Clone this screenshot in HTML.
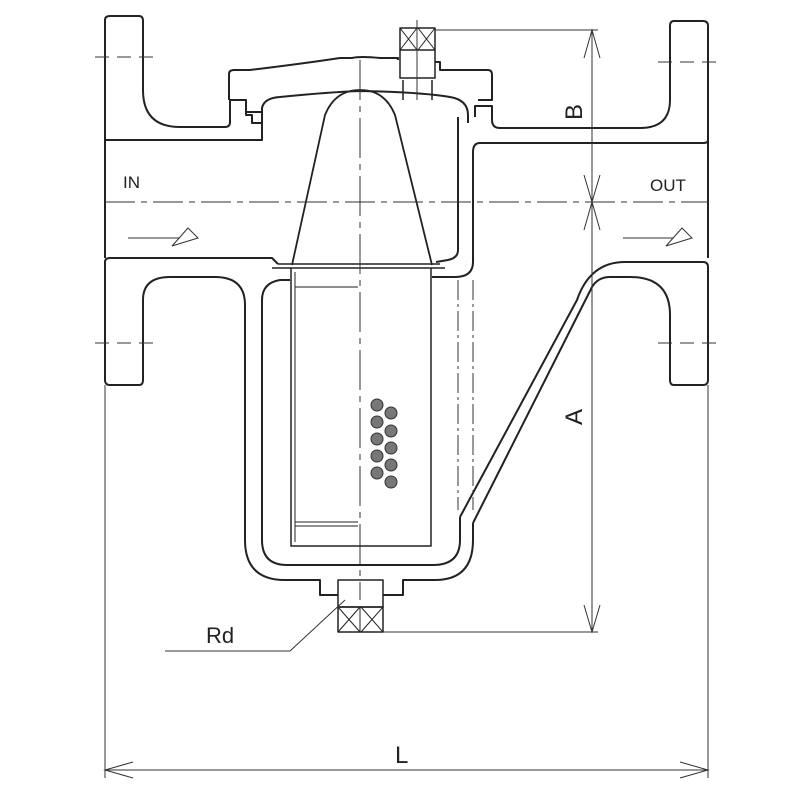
<!DOCTYPE html>
<html><head><style>body{margin:0;background:#fff}svg{display:block}</style></head><body>
<svg width="800" height="800" viewBox="0 0 800 800" xmlns="http://www.w3.org/2000/svg" font-family="Liberation Sans, sans-serif">
<g fill="none" stroke="#222" stroke-width="2" stroke-linejoin="round">
<path d="M105,258 V20 Q105,16 110,16 H139 Q143,16 143,21 V90 Q143,127 180,127 H225 Q230,127 230,122 V100"/>
<path d="M105,140 H262 V123 H252 V115 H246 V100"/>
<path d="M105,262 Q105,258 110,258 H272 L278,264"/>
<path d="M105,262 V380 Q105,385 110,385 H139 Q143,385 143,380 V300 Q143,277 170,277 H215 Q245,277 245,305 V540 Q245,580 285,580 H320 V595 H338"/>
<path d="M262,300 Q262,283 280,280 H290"/>
<path d="M262,300 V540 Q262,565 287,565 H433 Q460,565 460,540 V517"/>
<path d="M383,595 H403 V580 H435 Q473,580 473,540 V523"/>
<path d="M460,517 L577,300 Q590,262 625,262 H703 Q708,262 708,267 V380 Q708,385 703,385 H674 Q670,385 670,380 V315 Q670,277 630,277 H610 Q598,277 592,287 L473,523"/>
<path d="M708,258 V26 Q708,21 703,21 H674 Q670,21 670,26 V100 Q670,128 640,128 H500 Q492,128 492,120 V106 H475 V117"/>
<path d="M708,140 Q708,143 703,143 H480 Q473,143 473,152 V262 Q473,277 455,277 H432"/>
<path d="M458,117 V250 Q458,258 448,260 L436,262"/>
<path d="M229,100 V74 Q229,70 234,70 H250 Q300,64 340,58 H352 Q360,56 380,58 H398 V60"/>
<path d="M435,62 H440 V70 H488 Q492,70 492,75 V100 H478"/>
<path d="M229,100 H246 V112 H262 V123"/>
<path d="M262,123 V108 Q264,98 280,97 Q330,92 360,91 Q420,92 450,97 Q468,100 468,115 V123"/>
<path d="M292,265 L325,115 Q335,90 360,90 Q385,90 395,115 L432,265" stroke-width="1.8"/>
<path d="M278,264 H440 M272,268 H445" stroke-width="1.5"/>
<path d="M291,268 V546 H431 V268" stroke-width="1.5"/>
<path d="M295,272 V542" stroke-width="1"/>
<path d="M295,287 H358 M295,522 H358 M295,526 H358" stroke-width="1"/>
<rect x="400" y="28" width="35" height="22" stroke-width="1.5"/>
<path d="M400,28 L417,50 M417,28 L400,50 M418,28 L435,50 M435,28 L418,50 M417,28 V50" stroke-width="1"/>
<path d="M400,50 V78 H435 V50 M403,80 V100 M432,80 V100" stroke-width="1.5"/>
<path d="M338,580 V607 H383 V580 Z" stroke-width="1.5"/>
<rect x="338" y="607" width="45" height="25" stroke-width="1.5"/>
<path d="M338,607 L360,632 M360,607 L338,632 M361,607 L383,632 M383,607 L361,632 M360,607 V632" stroke-width="1"/>
</g>
<g fill="none" stroke="#333" stroke-width="1">
<path d="M105,202 H708" stroke-dasharray="30,6,6,6"/>
<path d="M360,60 V600" stroke-dasharray="40,6,6,6"/>
<path d="M417,20 V100" />
<path d="M458,280 V510 M473,280 V510" stroke-dasharray="20,4,3,4"/>
<path d="M95,57 H155 M95,343 H155 M658,62 H720 M658,343 H720" stroke-dasharray="14,8"/>
<path d="M435,30 H598 M383,632 H598"/>
<path d="M592,30 V632"/>
<path d="M584,58 L592,30 L600,58 M584,175 L592,202 L600,175 M584,230 L592,202 L600,230 M584,605 L592,632 L600,605"/>
<path d="M105,385 V778 M708,385 V778 M105,770 H708"/>
<path d="M133,762 L105,770 L133,778 M680,762 L708,770 L680,778"/>
<path d="M165,651 H290 L345,600"/>
<path d="M128,238 H180 M172,246 L188,228 L198,238 L172,246"/>
<path d="M623,238 H673 M666,246 L682,228 L692,238 L666,246"/>
</g>
<g fill="#777" stroke="#333" stroke-width="1">
<circle cx="377" cy="405" r="6"/><circle cx="377" cy="422" r="6"/><circle cx="377" cy="439" r="6"/><circle cx="377" cy="456" r="6"/><circle cx="377" cy="473" r="6"/>
<circle cx="391" cy="413" r="6"/><circle cx="391" cy="431" r="6"/><circle cx="391" cy="448" r="6"/><circle cx="391" cy="465" r="6"/><circle cx="391" cy="482" r="6"/>
</g>
<g fill="#222">
<text x="123" y="188" font-size="17">IN</text>
<text x="650" y="191" font-size="17">OUT</text>
<text x="206" y="643" font-size="22">Rd</text>
<text x="395" y="763" font-size="24">L</text>
<text transform="translate(582,120) rotate(-90)" font-size="24">B</text>
<text transform="translate(582,425) rotate(-90)" font-size="24">A</text>
</g>
</svg>
</body></html>
